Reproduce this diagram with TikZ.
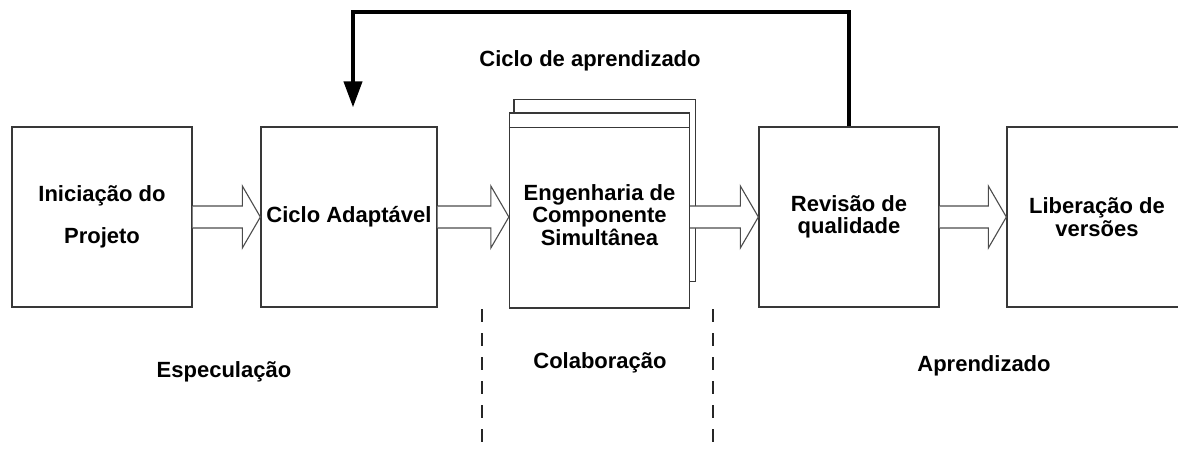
\documentclass[tikz,border=0pt]{standalone}
\usepackage{fontspec}
\setmainfont{Liberation Sans}
\usetikzlibrary{calc,arrows.meta,backgrounds}
\begin{document}
\begin{tikzpicture}[x=1pt,y=-1pt,
  txt/.style={font=\bfseries\fontsize{22}{22.5}\selectfont, align=center, inner sep=0pt},
  box/.style={txt, draw=black!78, line width=1.3pt, fill=white, minimum width=180pt, minimum height=180pt},
  blk/.style={draw=black!70, line width=1.1pt, fill=white, line join=miter},
  fb/.style={line width=4pt, line join=miter, -{Triangle[width=18pt,length=26pt]}},
  sep/.style={draw=black!85, line width=1.5pt, dash pattern=on 13pt off 11pt}]
\useasboundingbox (0,0) rectangle (1178,450);
\coordinate (axis) at (0,217);

\node[box] (b1) at (102,217) {Iniciação do\\[19pt]Projeto};
\node[box, minimum width=176pt] (b2) at (349,217) {Ciclo Adaptável};
\node[box, minimum height=195pt,
  label={[txt, name=b3t, yshift=-4.5pt]center:{Engenharia de\\Componente\\Simultânea}}] (b3) at (599.5,210.5) {};
\begin{scope}[on background layer]
  \draw[draw=black!78, line width=1.3pt, fill=white] ($(b3.north west)+(5,-13)$) rectangle ($(b3.south east)+(5,-27)$);
\end{scope}
\draw[draw=black!78, line width=1.3pt] ($(b3.north west)+(0,15)$) -- ($(b3.north east)+(0,15)$);
\node[box] (b4) at (849,217) {Revisão de\\qualidade};
\node[box] (b5) at (1097,217) {Liberação de\\versões};

\newcommand\blockarrow[2]{%
  \coordinate (s) at (#1.east|-axis);
  \coordinate (t) at (#2.west|-axis);
  \draw[blk] ($(s)+(0,-11)$) -- ($(t)+(-18,-11)$) -- ($(t)+(-18,-31)$) -- (t)
    -- ($(t)+(-18,31)$) -- ($(t)+(-18,11)$) -- ($(s)+(0,11)$);}
\blockarrow{b1}{b2}
\blockarrow{b2}{b3}
\blockarrow{b3}{b4}
\blockarrow{b4}{b5}

\draw[fb] (b4.north) -- ++(0,-114) -| ($(b2.north)+(4,-19)$);

\node[txt] (lc) at (590,61) {Ciclo de aprendizado};
\node[txt] (le) at (224,372) {Especulação};
\node[txt] (lco) at (600,363) {Colaboração};
\node[txt] (la) at (984,366) {Aprendizado};

\coordinate (d1a) at (482,309);
\coordinate (d1b) at (482,450);
\coordinate (d2a) at (713,309);
\coordinate (d2b) at (713,450);
\draw[sep] (d1a) -- (d1b);
\draw[sep] (d2a) -- (d2b);
\end{tikzpicture}
\end{document}
